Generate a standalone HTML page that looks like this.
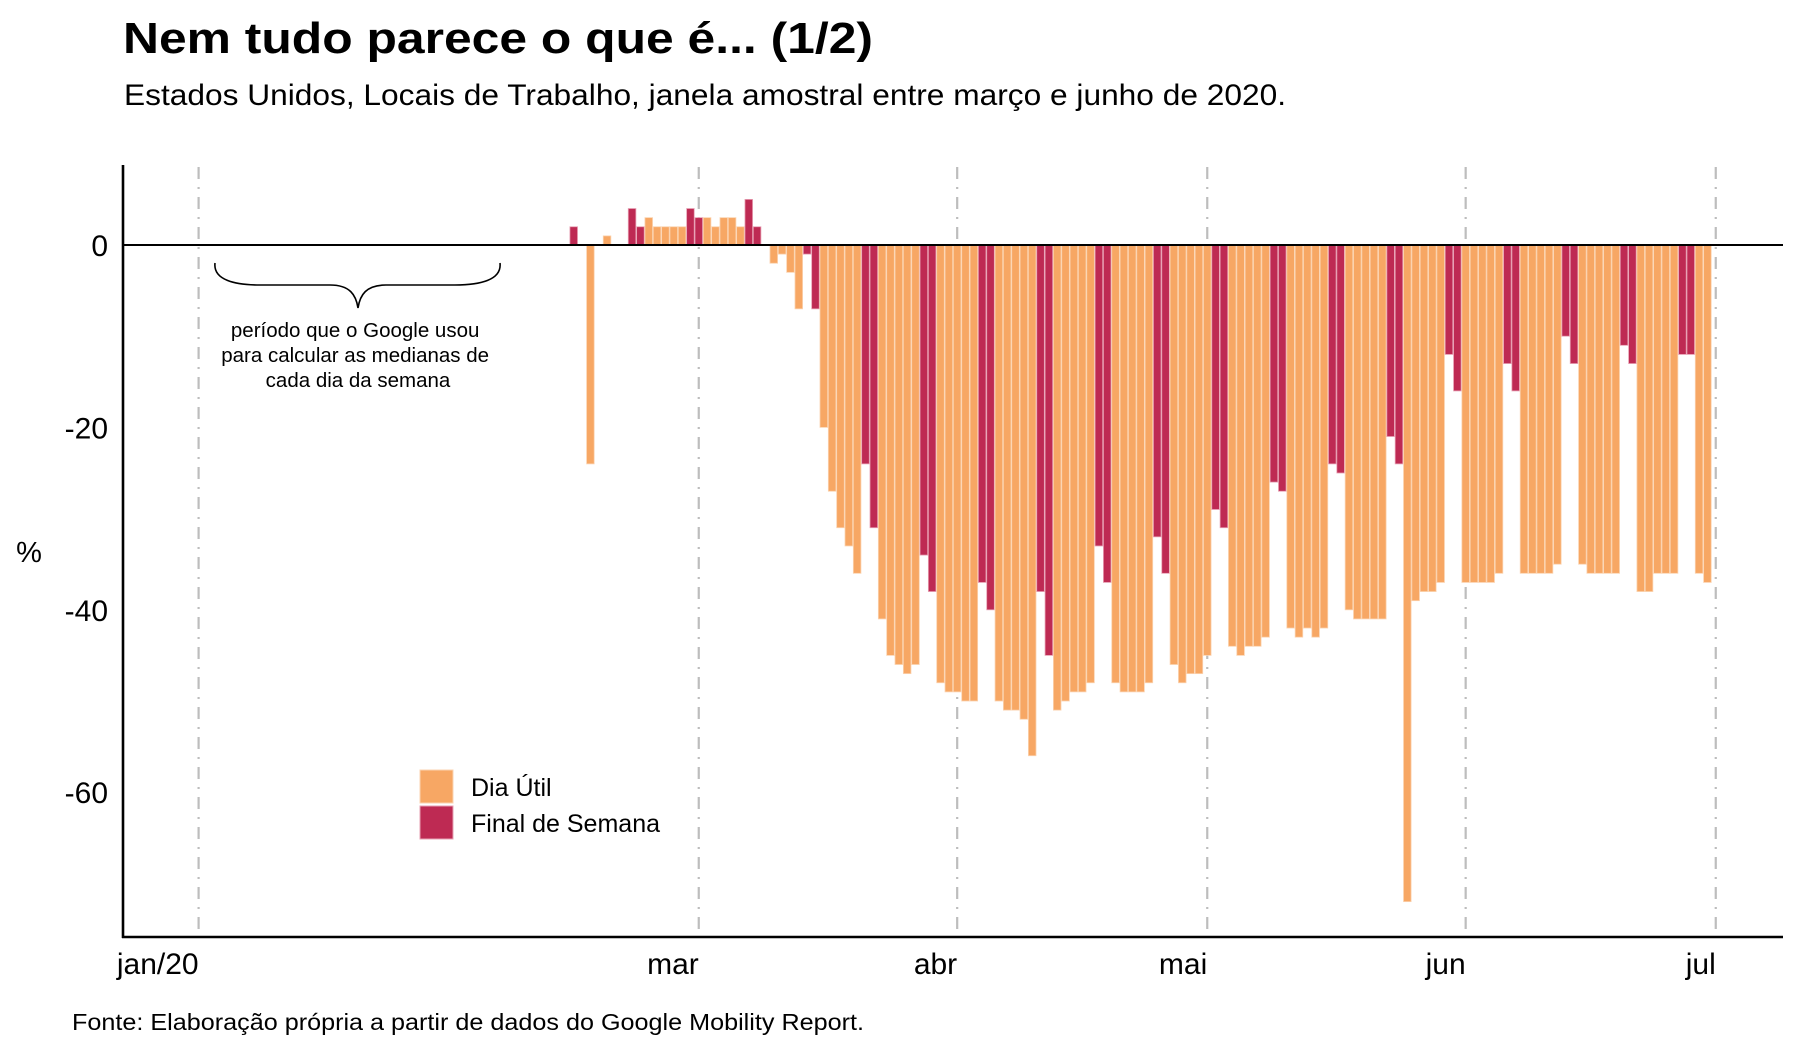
<!DOCTYPE html>
<html><head><meta charset="utf-8"><style>
html,body{margin:0;padding:0;background:#fff;}
svg{display:block;}
text{font-family:"Liberation Sans",sans-serif;}
</style></head>
<body>
<svg id="chart" width="1800" height="1051" viewBox="0 0 1800 1051" xmlns="http://www.w3.org/2000/svg">
<text x="123" y="53" font-size="44" font-weight="bold" textLength="750" lengthAdjust="spacingAndGlyphs" style="font-family:'Comic Sans MS','Liberation Sans',sans-serif">Nem tudo parece o que é... (1/2)</text>
<text x="124" y="105" font-size="30" textLength="1162" lengthAdjust="spacingAndGlyphs">Estados Unidos, Locais de Trabalho, janela amostral entre março e junho de 2020.</text>
<g id="grid"></g>
<g id="bars"></g>
<g id="axes"></g>
<text x="29" y="562" font-size="29" text-anchor="middle">%</text>
<path d="M215,263 C213,280 235,285 260,285 L330,285 C350,285 356,295 358,308 C360,295 366,285 386,285 L455,285 C480,285 502,280 500,263" fill="none" stroke="#000" stroke-width="1.6"/>
<text font-size="20.5" text-anchor="middle">
<tspan x="358" y="337">período que o Google usou</tspan>
<tspan x="358" y="362">para calcular as medianas de</tspan>
<tspan x="358" y="387">cada dia da semana</tspan>
</text>
<g>
<rect x="420" y="770" width="33" height="33" fill="#F7A764" stroke="#fbd3b0" stroke-width="1"/>
<text x="471" y="796" font-size="25">Dia Útil</text>
<rect x="420" y="806" width="33" height="33" fill="#BE2A53" stroke="#e7a0b3" stroke-width="1"/>
<text x="471" y="832" font-size="25">Final de Semana</text>
</g>
<text x="72" y="1030" font-size="23" textLength="792" lengthAdjust="spacingAndGlyphs">Fonte: Elaboração própria a partir de dados do Google Mobility Report.</text>
</svg>
<script>
// Data: daily % change, workplaces, from 2020-02-15
const startDate = "2020-02-15";
const values = [2,0,-24,0,1,0,0,4,2,3,2,2,2,2,4,3,3,2,3,3,2,5,2,0,-2,-1,-3,-7,-1,-7,
-20,-27,-31,-33,-36,-24,-31,-41,-45,-46,-47,-46,-34,-38,-48,-49,-49,-50,-50,-37,-40,
-50,-51,-51,-52,-56,-38,-45,-51,-50,-49,-49,-48,-33,-37,-48,-49,-49,-49,-48,-32,-36,
-46,-48,-47,-47,-45,-29,-31,-44,-45,-44,-44,-43,-26,-27,-42,-43,-42,-43,-42,-24,-25,
-40,-41,-41,-41,-41,-21,-24,-72,-39,-38,-38,-37,-12,-16,-37,-37,-37,-37,-36,-13,-16,
-36,-36,-36,-36,-35,-10,-13,-35,-36,-36,-36,-36,-11,-13,-38,-38,-36,-36,-36,-12,-12,-36,-37];
const monthTicks = ["2020-01-01","2020-03-01","2020-04-01","2020-05-01","2020-06-01","2020-07-01"];
const monthLabels = ["jan/20","mar","abr","mai","jun","jul"];
const yTicks = [0,-20,-40,-60];

const NS="http://www.w3.org/2000/svg";
const DAY=86400000, T0=Date.UTC(2020,0,1);
function dayIdx(s){const p=s.split("-");return (Date.UTC(+p[0],+p[1]-1,+p[2])-T0)/DAY;}
function x(d){return 198.6+d*8.336;}
function y(v){return 245 - v*9.12;}
function mk(tag,attrs,parent){const e=document.createElementNS(NS,tag);for(const k in attrs)e.setAttribute(k,attrs[k]);parent.appendChild(e);return e;}

const grid=document.getElementById("grid"), bars=document.getElementById("bars"), axes=document.getElementById("axes");
monthTicks.forEach((t,i)=>{
  const gx=x(dayIdx(t));
  const g=mk("line",{x1:gx,x2:gx,y1:167,y2:937,stroke:"#bdbdbd","stroke-width":2.2,"stroke-dasharray":"12 8 2 8"},grid);
  
  
  const lb=mk("text",{x:gx,y:974,"font-size":30,"text-anchor":"end"},axes);
  lb.textContent=monthLabels[i];
  
  
});
const d0=dayIdx(startDate);
values.forEach((v,i)=>{
  const d=d0+i;
  const dow=new Date(T0+d*DAY).getUTCDay();
  const wk=(dow===0||dow===6);
  const cx=x(d), w=7.6;
  const top=Math.min(y(v),y(0)), h=Math.abs(y(v)-y(0));
  if(h<0.01) return;
  const r=mk("rect",{x:cx-w/2,y:top,width:w,height:h,fill:wk?"#BE2A53":"#F7A764",stroke:wk?"#e7a0b3":"#fbd3b0","stroke-width":0.8},bars);
  
  
});
yTicks.forEach(t=>{
  const lb=mk("text",{x:108,y:y(t)+11,"font-size":30,"text-anchor":"end"},axes);
  lb.textContent=String(t);
  
  
});
const z=mk("line",{x1:123,x2:1783,y1:y(0),y2:y(0),stroke:"#000","stroke-width":2},axes);


const ya=mk("line",{x1:123,x2:123,y1:165,y2:938,stroke:"#000","stroke-width":2.6},axes);


const xa=mk("line",{x1:122,x2:1783,y1:937,y2:937,stroke:"#000","stroke-width":2.6},axes);


</script>
</body></html>
